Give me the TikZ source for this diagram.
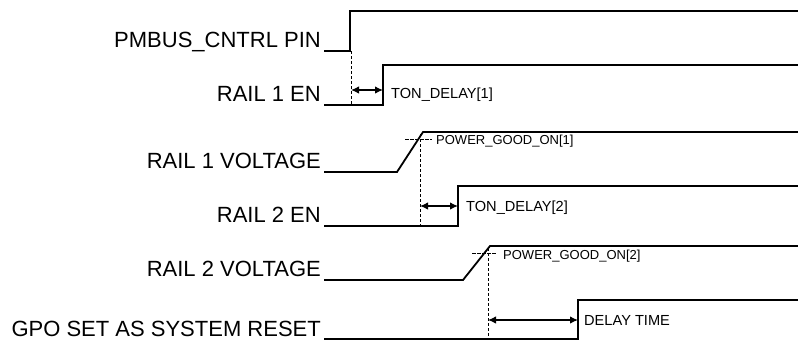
\documentclass[tikz,border=0pt]{standalone}
\usepackage{fontspec}
\setmainfont{Liberation Sans}
\usetikzlibrary{arrows.meta}
\begin{document}
\begin{tikzpicture}[x=1pt,y=-1pt,
  sig/.style={line width=1.8pt, line join=miter},
  lab/.style={font=\fontsize{22}{26}\selectfont, anchor=base east, inner sep=0pt},
  small/.style={font=\fontsize{14.6}{17}\selectfont, anchor=base west, inner sep=0pt},
  tiny/.style={font=\fontsize{13}{15}\selectfont, anchor=base west, inner sep=0pt},
  guide/.style={line width=0.8pt, dash pattern=on 3pt off 2pt},
  tick/.style={line width=0.9pt, dash pattern=on 3.5pt off 1.5pt},
  dimarrow/.style={line width=1.2pt, {Latex[length=8pt,width=7.5pt]}-{Latex[length=8pt,width=7.5pt]}}]
\useasboundingbox (0,0) rectangle (798,341);

% signal labels
\node[lab] (n1) at (321,47)  {PMBUS\_CNTRL PIN};
\node[lab] (n2) at (321,101) {RAIL 1 EN};
\node[lab] (n3) at (321,168) {RAIL 1 VOLTAGE};
\node[lab] (n4) at (321,222) {RAIL 2 EN};
\node[lab] (n5) at (321,276) {RAIL 2 VOLTAGE};
\node[lab] (n6) at (321,336) {GPO SET AS SYSTEM RESET};

% PMBUS_CNTRL PIN
\coordinate (a0) at (324,51);
\coordinate (a1) at (350,51);
\coordinate (a2) at (350,11);
\coordinate (a3) at (798,11);
\draw[sig] (a0) -- (a1) -- (a2) -- (a3);

% RAIL 1 EN
\coordinate (b0) at (324,105);
\coordinate (b1) at (383,105);
\coordinate (b2) at (383,65);
\coordinate (b3) at (798,65);
\draw[sig] (b0) -- (b1) -- (b2) -- (b3);
\coordinate (g1a) at (351,51);
\coordinate (g1b) at (351,105);
\draw[guide] (g1a) -- (g1b);
\coordinate (d1a) at (351,90);
\coordinate (d1b) at (383,90);
\draw[dimarrow] (d1a) -- (d1b);
\node[small] (t1) at (391,98) {TON\_DELAY[1]};

% RAIL 1 VOLTAGE
\coordinate (c0) at (324,172);
\coordinate (c1) at (397,172);
\coordinate (c2) at (423,132);
\coordinate (c3) at (798,132);
\draw[sig] (c0) -- (c1) -- (c2) -- (c3);
\coordinate (k1a) at (405,139);
\coordinate (k1b) at (432,139);
\draw[tick] (k1a) -- (k1b);
\coordinate (g2a) at (420,134);
\coordinate (g2b) at (420,226);
\draw[guide] (g2a) -- (g2b);
\node[tiny] (p1) at (436,144) {POWER\_GOOD\_ON[1]};

% RAIL 2 EN
\coordinate (e0) at (324,226);
\coordinate (e1) at (458,226);
\coordinate (e2) at (458,186);
\coordinate (e3) at (798,186);
\draw[sig] (e0) -- (e1) -- (e2) -- (e3);
\coordinate (d2a) at (420,206);
\coordinate (d2b) at (458,206);
\draw[dimarrow] (d2a) -- (d2b);
\node[small] (t2) at (466,211) {TON\_DELAY[2]};

% RAIL 2 VOLTAGE
\coordinate (f0) at (324,280);
\coordinate (f1) at (463,280);
\coordinate (f2) at (490,246);
\coordinate (f3) at (798,246);
\draw[sig] (f0) -- (f1) -- (f2) -- (f3);
\coordinate (k2a) at (472,253);
\coordinate (k2b) at (497,253);
\draw[tick] (k2a) -- (k2b);
\coordinate (g3a) at (488,248);
\coordinate (g3b) at (488,339);
\draw[guide] (g3a) -- (g3b);
\node[tiny] (p2) at (503,259) {POWER\_GOOD\_ON[2]};

% GPO SET AS SYSTEM RESET
\coordinate (h0) at (324,339);
\coordinate (h1) at (578,339);
\coordinate (h2) at (578,300);
\coordinate (h3) at (798,300);
\draw[sig] (h0) -- (h1) -- (h2) -- (h3);
\coordinate (d3a) at (488,320);
\coordinate (d3b) at (578,320);
\draw[dimarrow] (d3a) -- (d3b);
\node[small] (t3) at (584,325) {DELAY TIME};
\end{tikzpicture}
\end{document}
